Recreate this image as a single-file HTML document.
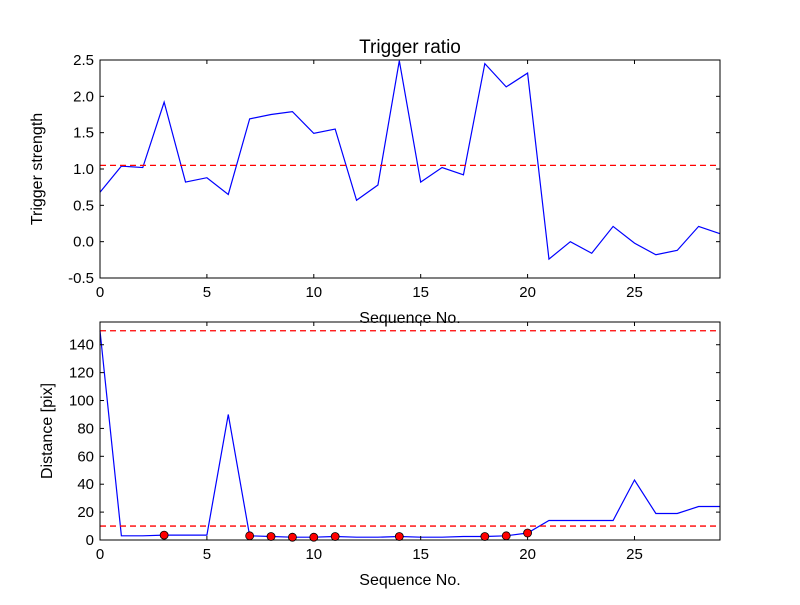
<!DOCTYPE html>
<html><head><meta charset="utf-8"><style>
body{margin:0;background:#fff;font-family:"Liberation Sans",sans-serif}
svg text{font-family:"Liberation Sans","DejaVu Sans",sans-serif}
</style></head><body>
<svg id="c" width="800" height="600" xmlns="http://www.w3.org/2000/svg"></svg>
<script>
const ratioValues=[0.68,1.04,1.02,1.92,0.82,0.88,0.65,1.69,1.75,1.79,1.49,1.55,0.57,0.78,2.49,0.82,1.02,0.92,2.45,2.13,2.32,-0.24,0.0,-0.16,0.21,-0.02,-0.18,-0.12,0.21,0.11];
const ratioThreshold=1.05;
const distValues=[150,3,3,3.5,3.5,3.5,90,3,2.5,2,2,2.5,2,2,2.5,2,2,2.5,2.5,3,5,14,14,14,14,43,19,19,24,24];
const flaggedIdx=[3,7,8,9,10,11,14,18,19,20];
const distThresholds=[150,10];
const xTicks=[0,5,10,15,20,25];
const topTicks=[-0.5,0.0,0.5,1.0,1.5,2.0,2.5];
const botTicks=[0,20,40,60,80,100,120,140];
const svg=document.getElementById('c');
const NS='http://www.w3.org/2000/svg';
function mk(t,a,p){const e=document.createElementNS(NS,t);for(const k in a)e.setAttribute(k,a[k]);(p||svg).appendChild(e);return e;}
const L=100,R=720;
const xs=v=>L+(R-L)*v/29;
function panel(top,bot,ymin,ymax,ticks,fmt,vals,thr,ylabel,title,name){
  const ys=v=>bot-(bot-top)*(v-ymin)/(ymax-ymin);
  const g=mk('g',{});
  const p=mk('polyline',{points:vals.map((v,i)=>xs(i)+','+ys(v)).join(' '),fill:'none',stroke:'#00f','stroke-width':1.2},g);
  
  thr.forEach(t=>{const l=mk('line',{x1:L,x2:R,y1:ys(t),y2:ys(t),stroke:'#f00','stroke-dasharray':'6,4','stroke-width':1.3},g);});
  mk('rect',{x:L,y:top,width:R-L,height:bot-top,fill:'none',stroke:'#000','stroke-width':1},g);
  xTicks.forEach(t=>{mk('line',{x1:xs(t),x2:xs(t),y1:bot,y2:bot-4,stroke:'#000'},g);mk('line',{x1:xs(t),x2:xs(t),y1:top,y2:top+4,stroke:'#000'},g);
    const tx=mk('text',{x:xs(t),y:bot+19,'text-anchor':'middle','font-size':15},g);tx.textContent=t;});
  ticks.forEach(t=>{mk('line',{x1:L,x2:L+4,y1:ys(t),y2:ys(t),stroke:'#000'},g);mk('line',{x1:R,x2:R-4,y1:ys(t),y2:ys(t),stroke:'#000'},g);
    const tx=mk('text',{x:L-6,y:ys(t)+5,'text-anchor':'end','font-size':15},g);tx.textContent=fmt(t);});
  const yl=mk('text',{x:0,y:0,transform:`translate(${name==='top-panel'?42:52},${(top+bot)/2}) rotate(-90)`,'text-anchor':'middle','font-size':16},g);yl.textContent=ylabel;
  const xl=mk('text',{x:410,y:bot+45,'text-anchor':'middle','font-size':16},g);xl.textContent='Sequence No.';
  if(title){const ti=mk('text',{x:410,y:top-7,'text-anchor':'middle','font-size':19},g);ti.textContent=title;}
  return ys;
}
panel(60,278,-0.5,2.5,topTicks,t=>t.toFixed(1),ratioValues,[ratioThreshold],'Trigger strength','Trigger ratio','top-panel');
const ys2=panel(322,540,0,156.3,botTicks,t=>String(t),distValues,distThresholds,'Distance [pix]',null,'bottom-panel');
flaggedIdx.forEach(i=>{const c=mk('circle',{cx:xs(i),cy:ys2(distValues[i]),r:4,fill:'#f00',stroke:'#000','stroke-width':0.8});

});
</script>
</body></html>
